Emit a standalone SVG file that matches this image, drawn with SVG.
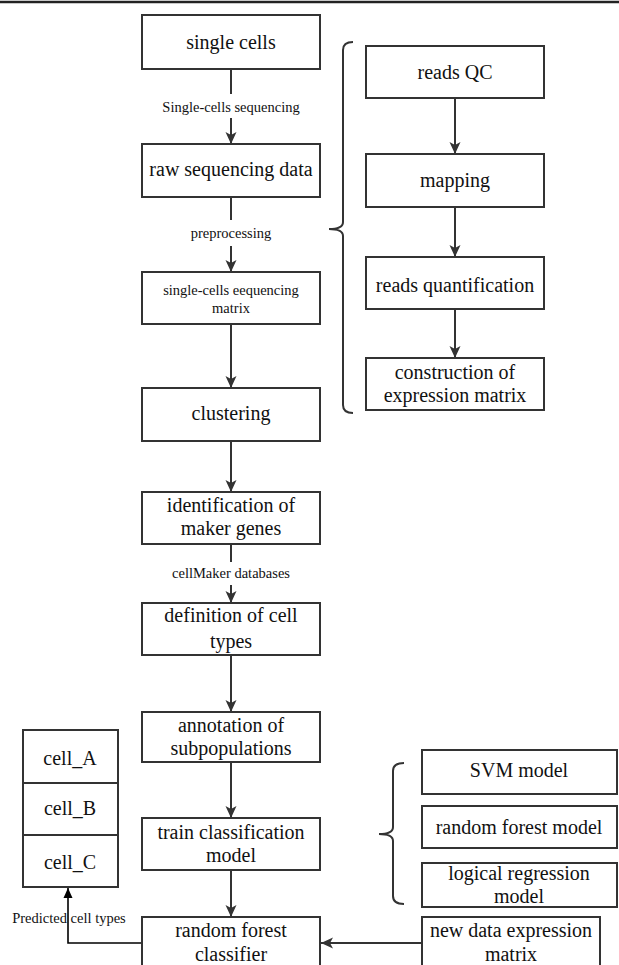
<svg xmlns="http://www.w3.org/2000/svg" width="619" height="965" viewBox="0 0 619 965">
<style>
.box{fill:#fff;stroke:#333;stroke-width:2}
.t{font-family:'Liberation Serif','Times New Roman','DejaVu Serif',serif;font-size:20px;fill:#111;text-anchor:middle}
.s{font-family:'Liberation Serif','Times New Roman','DejaVu Serif',serif;font-size:14.5px;fill:#111;text-anchor:middle}
.c{fill:none;stroke:#333;stroke-width:2}
.k{fill:none;stroke:#000;stroke-width:1.6}
</style>
<defs>
<marker id="ah" viewBox="0 0 12 12" refX="12" refY="6" markerWidth="12" markerHeight="12" markerUnits="userSpaceOnUse" orient="auto">
<path d="M0,0.5 L12,6 L0,11.5 L3,6 z" fill="#333"/>
</marker>
<marker id="ak" viewBox="0 0 10 10" refX="10" refY="5" markerWidth="10" markerHeight="10" markerUnits="userSpaceOnUse" orient="auto">
<path d="M0,0.5 L10,5 L0,9.5 z" fill="#000"/>
</marker>
</defs>
<line x1="0" y1="2" x2="619" y2="2" stroke="#222" stroke-width="2.5"/>

<g id="connectors">
<line class="c" x1="231" y1="69" x2="231" y2="94"/>
<line class="c" x1="231" y1="118" x2="231" y2="144" marker-end="url(#ah)"/>
<line class="c" x1="231" y1="197" x2="231" y2="220"/>
<line class="c" x1="231" y1="246" x2="231" y2="272" marker-end="url(#ah)"/>
<line class="c" x1="231" y1="324" x2="231" y2="388" marker-end="url(#ah)"/>
<line class="c" x1="231" y1="441" x2="231" y2="492" marker-end="url(#ah)"/>
<line class="c" x1="231" y1="544" x2="231" y2="562"/>
<line class="c" x1="231" y1="585" x2="231" y2="603" marker-end="url(#ah)"/>
<line class="c" x1="231" y1="655" x2="231" y2="712" marker-end="url(#ah)"/>
<line class="c" x1="231" y1="762" x2="231" y2="818" marker-end="url(#ah)"/>
<line class="c" x1="231" y1="870" x2="231" y2="917" marker-end="url(#ah)"/>
<line class="c" x1="455" y1="98" x2="455" y2="154" marker-end="url(#ah)"/>
<line class="c" x1="455" y1="207" x2="455" y2="257" marker-end="url(#ah)"/>
<line class="c" x1="455" y1="309" x2="455" y2="358" marker-end="url(#ah)"/>
<line class="c" x1="422" y1="943" x2="321" y2="943" marker-end="url(#ah)"/>
<path class="k" d="M143,943 L68,943 L68,888" marker-end="url(#ak)"/>
<path class="c" d="M353,42 Q343,42 343,50 L343,222 Q343,229 329,229 Q343,229 343,236 L343,405 Q343,413 353,413"/>
<path class="c" d="M404,763 Q393,763 393,771 L393,827 Q393,834 379,834 Q393,834 393,841 L393,896 Q393,904 404,904"/>
<text class="s" x="231" y="112">Single-cells sequencing</text>
<text class="s" x="231" y="238">preprocessing</text>
<text class="s" x="231" y="578">cellMaker databases</text>
<text class="s" x="69" y="923">Predicted cell types</text>
</g>

<g id="single-cells"><rect class="box" x="142" y="15" width="178" height="54"/><text class="t" x="231" y="49">single cells</text></g>
<g id="raw-data"><rect class="box" x="142" y="144" width="178" height="53"/><text class="t" x="231" y="176">raw sequencing data</text></g>
<g id="seq-matrix"><rect class="box" x="142" y="272" width="178" height="52"/><text class="s" x="231" y="295">single-cells eequencing</text><text class="s" x="231" y="313">matrix</text></g>
<g id="clustering"><rect class="box" x="142" y="388" width="178" height="53"/><text class="t" x="231" y="420">clustering</text></g>
<g id="marker-genes"><rect class="box" x="142" y="492" width="178" height="52"/><text class="t" x="231" y="512">identification of</text><text class="t" x="231" y="535">maker genes</text></g>
<g id="cell-types"><rect class="box" x="142" y="603" width="178" height="52"/><text class="t" x="231" y="622">definition of cell</text><text class="t" x="231" y="648">types</text></g>
<g id="annotation"><rect class="box" x="142" y="712" width="178" height="50"/><text class="t" x="231" y="732">annotation of</text><text class="t" x="231" y="755">subpopulations</text></g>
<g id="train"><rect class="box" x="142" y="818" width="178" height="52"/><text class="t" x="231" y="839">train classification</text><text class="t" x="231" y="862">model</text></g>
<g id="rf-classifier"><rect class="box" x="142" y="917" width="178" height="60"/><text class="t" x="231" y="937">random forest</text><text class="t" x="231" y="961">classifier</text></g>

<g id="reads-qc"><rect class="box" x="366" y="46" width="178" height="52"/><text class="t" x="455" y="79">reads QC</text></g>
<g id="mapping"><rect class="box" x="366" y="154" width="178" height="53"/><text class="t" x="455" y="187">mapping</text></g>
<g id="quantification"><rect class="box" x="366" y="257" width="178" height="52"/><text class="t" x="455" y="292">reads quantification</text></g>
<g id="construction"><rect class="box" x="366" y="358" width="178" height="52"/><text class="t" x="455" y="379">construction of</text><text class="t" x="455" y="402">expression matrix</text></g>

<g id="svm"><rect class="box" x="422" y="750" width="195" height="44"/><text class="t" x="519" y="777">SVM model</text></g>
<g id="rf-model"><rect class="box" x="422" y="806" width="195" height="42"/><text class="t" x="519" y="834">random forest model</text></g>
<g id="logreg"><rect class="box" x="422" y="863" width="195" height="44"/><text class="t" x="519" y="880">logical regression</text><text class="t" x="519" y="903">model</text></g>
<g id="new-data"><rect class="box" x="422" y="917" width="178" height="60"/><text class="t" x="511" y="937">new data expression</text><text class="t" x="511" y="961">matrix</text></g>

<g id="cell-stack">
<rect class="box" x="23" y="730" width="95" height="157"/>
<line class="c" x1="23" y1="783" x2="118" y2="783"/>
<line class="c" x1="23" y1="835" x2="118" y2="835"/>
<text class="t" x="70" y="765">cell_A</text>
<text class="t" x="70" y="815">cell_B</text>
<text class="t" x="70" y="869">cell_C</text>
</g>
</svg>
